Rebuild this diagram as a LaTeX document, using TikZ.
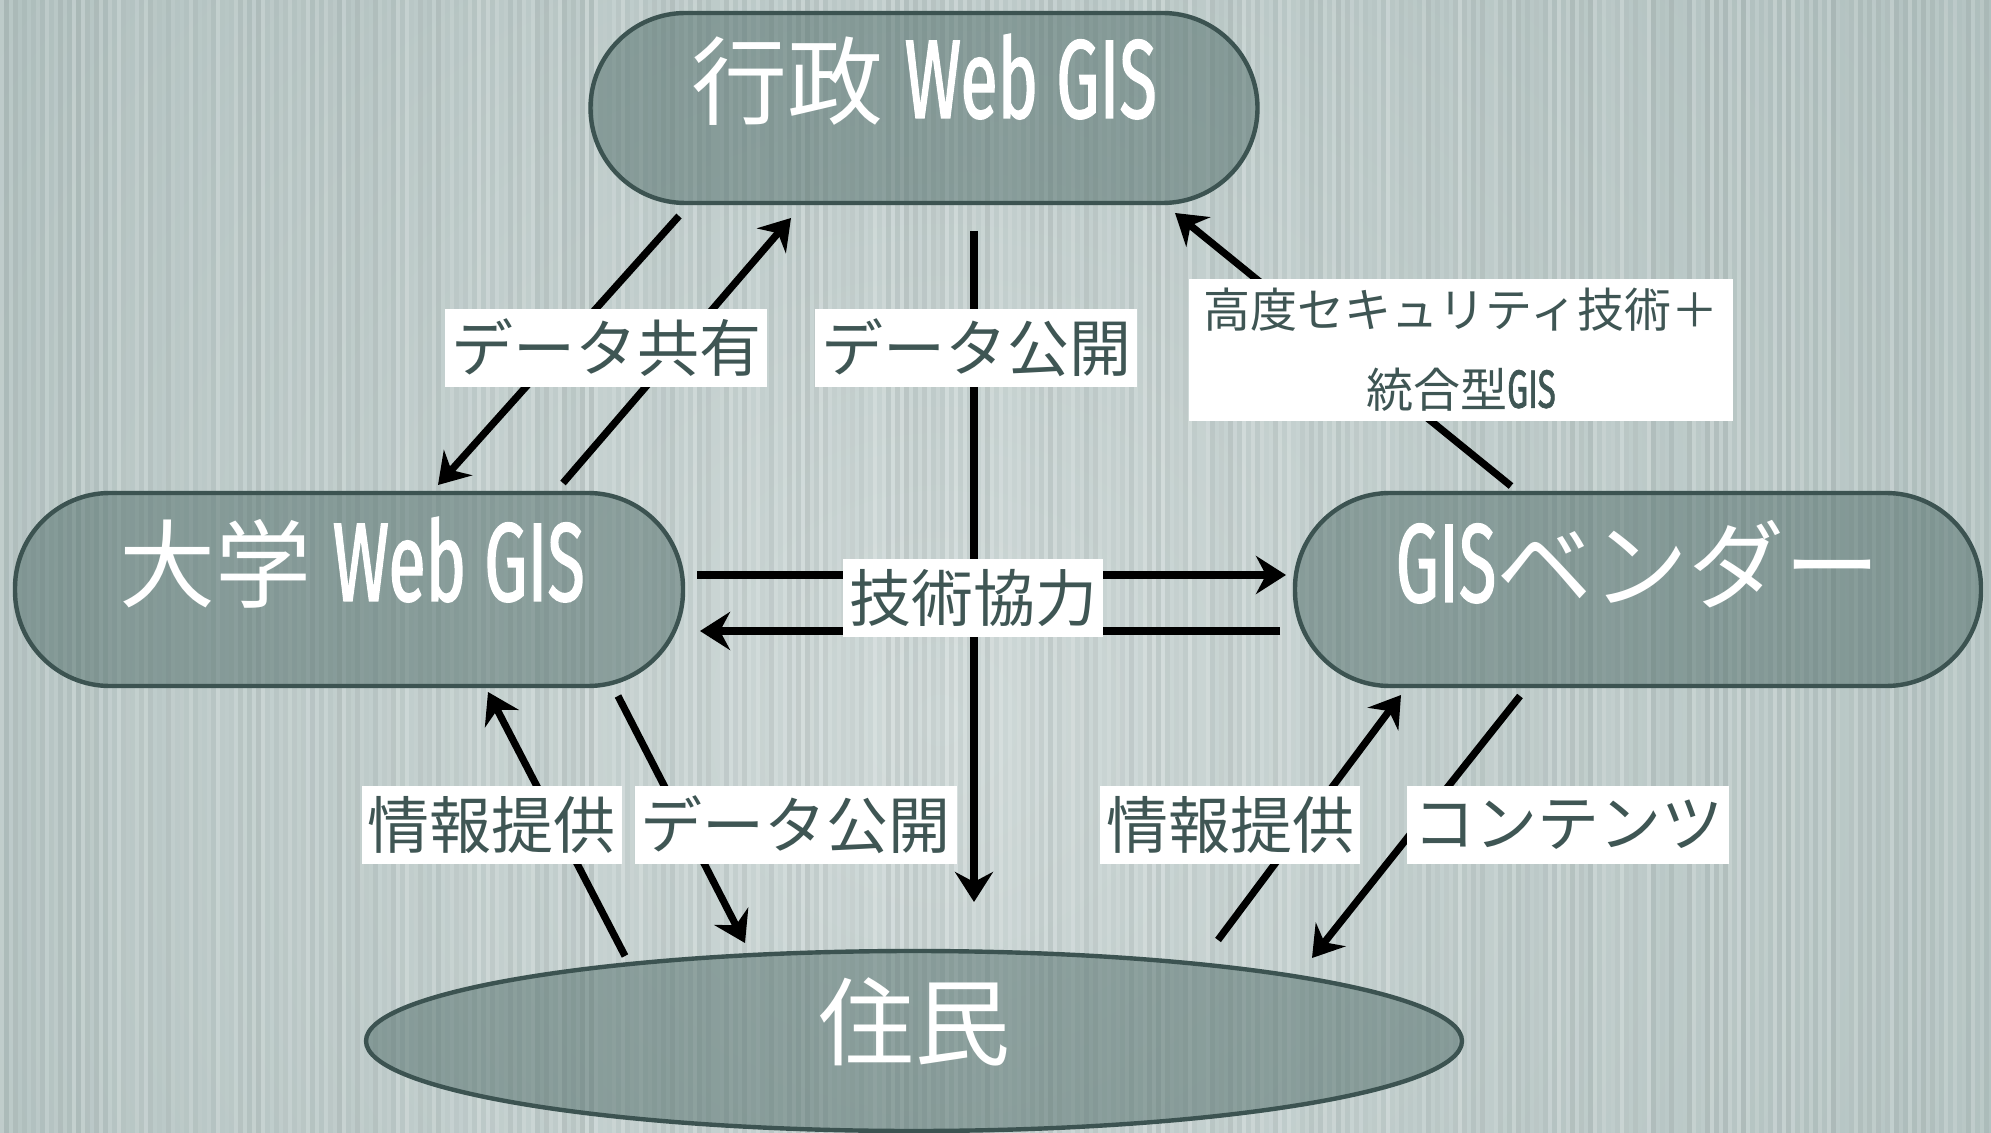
\documentclass[tikz,border=0pt]{standalone}
\usepackage{fontspec}
\setmainfont{Noto Sans CJK JP}
\newfontfamily\cjk{Noto Sans CJK JP}
\newfontfamily\cond[FakeStretch=0.61,FakeBold=1.2]{Fira Sans}
\usetikzlibrary{shapes.geometric,arrows.meta}
\definecolor{bgin}{HTML}{CFD9D8}
\definecolor{bgout}{HTML}{98ADAB}
\definecolor{nodefill}{HTML}{4F6C68}
\definecolor{nodeborder}{HTML}{3C5351}
\definecolor{labeltext}{HTML}{3F5654}
\newcommand\latn[2][56pt]{{\cond\fontsize{#1}{#1}\selectfont #2}}
\tikzset{
 pill/.style={rectangle, draw=nodeborder, line width=2.2pt, fill=nodefill, fill opacity=0.5, rounded corners=47.5pt, inner sep=0pt},
 oval/.style={ellipse, draw=nodeborder, line width=2.2pt, fill=nodefill, fill opacity=0.5, inner sep=0pt},
 ntext/.style={text=white, anchor=base, inner sep=0pt, font=\cjk\fontsize{48pt}{56pt}\selectfont},
 lbl/.style={fill=white, text=labeltext, inner xsep=3pt, inner ysep=0pt, minimum height=39pt, font=\cjk\fontsize{31pt}{36pt}\selectfont},
 conn/.style={line width=3.6pt, -{Stealth[length=15pt,width=19pt,inset=5pt]}},
}
\begin{document}
\begin{tikzpicture}[x=0.5pt,y=-0.5pt]
\useasboundingbox (0,0) rectangle (1991,1133);
% background
\begin{scope}
\clip (0,0) rectangle (1991,1133);
\shade[inner color=bgin, outer color=bgout] (940,720) circle (2300);
\pgfmathsetseed{11}
\foreach \i in {0,...,221} {
  \pgfmathsetmacro\op{0.2*rnd}
  \pgfmathsetmacro\opb{0.06*rnd}
  \fill[white, opacity=\op] (\i*9,0) rectangle (\i*9+4,1133);
  \fill[black, opacity=\opb] (\i*9+4,0) rectangle (\i*9+9,1133);
}
\end{scope}
% nodes
\node[pill, minimum width=333.5pt, minimum height=95pt] (gov) at (924,108) {};
\node[pill, minimum width=334pt, minimum height=96.5pt] (univ) at (349,589.5) {};
\node[pill, minimum width=343pt, minimum height=96.5pt] (vendor) at (1638,589.5) {};
\node[oval, minimum width=548pt, minimum height=90pt] (res) at (914,1041) {};
\node[ntext] (govt) at (924,118) {行政 \latn{Web GIS}};
\node[ntext] (univt) at (352,601) {大学 \latn{Web GIS}};
\node[ntext] (vendort) at (1638,602) {\latn{GIS}ベンダー};
\node[ntext] (rest) at (914,1058) {住民};
% endpoints
\coordinate (a1s) at (679,216); \coordinate (a1e) at (438,485);
\coordinate (a2s) at (563,483); \coordinate (a2e) at (791,218);
\coordinate (a3s) at (974,231); \coordinate (a3e) at (974,902);
\coordinate (a4s) at (1511,486); \coordinate (a4e) at (1175,213);
\coordinate (a5s) at (697,575); \coordinate (a5e) at (1286,575);
\coordinate (a6s) at (1280,631); \coordinate (a6e) at (700,631);
\coordinate (a7s) at (625,956); \coordinate (a7e) at (488,692);
\coordinate (a8s) at (618,696); \coordinate (a8e) at (745,943);
\coordinate (a9s) at (1218,940); \coordinate (a9e) at (1401,695);
\coordinate (a10s) at (1520,696); \coordinate (a10e) at (1312,958);
\draw[conn] (a1s) -- (a1e);
\draw[conn] (a2s) -- (a2e);
\draw[conn] (a3s) -- (a3e);
\draw[conn] (a4s) -- (a4e);
\draw[conn] (a5s) -- (a5e);
\draw[conn] (a6s) -- (a6e);
\draw[conn] (a7s) -- (a7e);
\draw[conn] (a8s) -- (a8e);
\draw[conn] (a9s) -- (a9e);
\draw[conn] (a10s) -- (a10e);
% labels
\node[lbl] (l1) at (606,348) {データ共有};
\node[lbl] (l2) at (976,348) {データ公開};
\node[lbl, align=center, minimum width=272pt, minimum height=71pt, font=\cjk\fontsize{23.5pt}{40pt}\selectfont] (l3) at (1461,350) {高度セキュリティ技術＋\\統合型\latn[27pt]{GIS}};
\node[lbl] (l4) at (973,598) {技術協力};
\node[lbl] (l5) at (491.5,825) {情報提供};
\node[lbl] (l6) at (795.5,825) {データ公開};
\node[lbl] (l7) at (1230,825) {情報提供};
\node[lbl] (l8) at (1568,825) {コンテンツ};
\end{tikzpicture}
\end{document}
